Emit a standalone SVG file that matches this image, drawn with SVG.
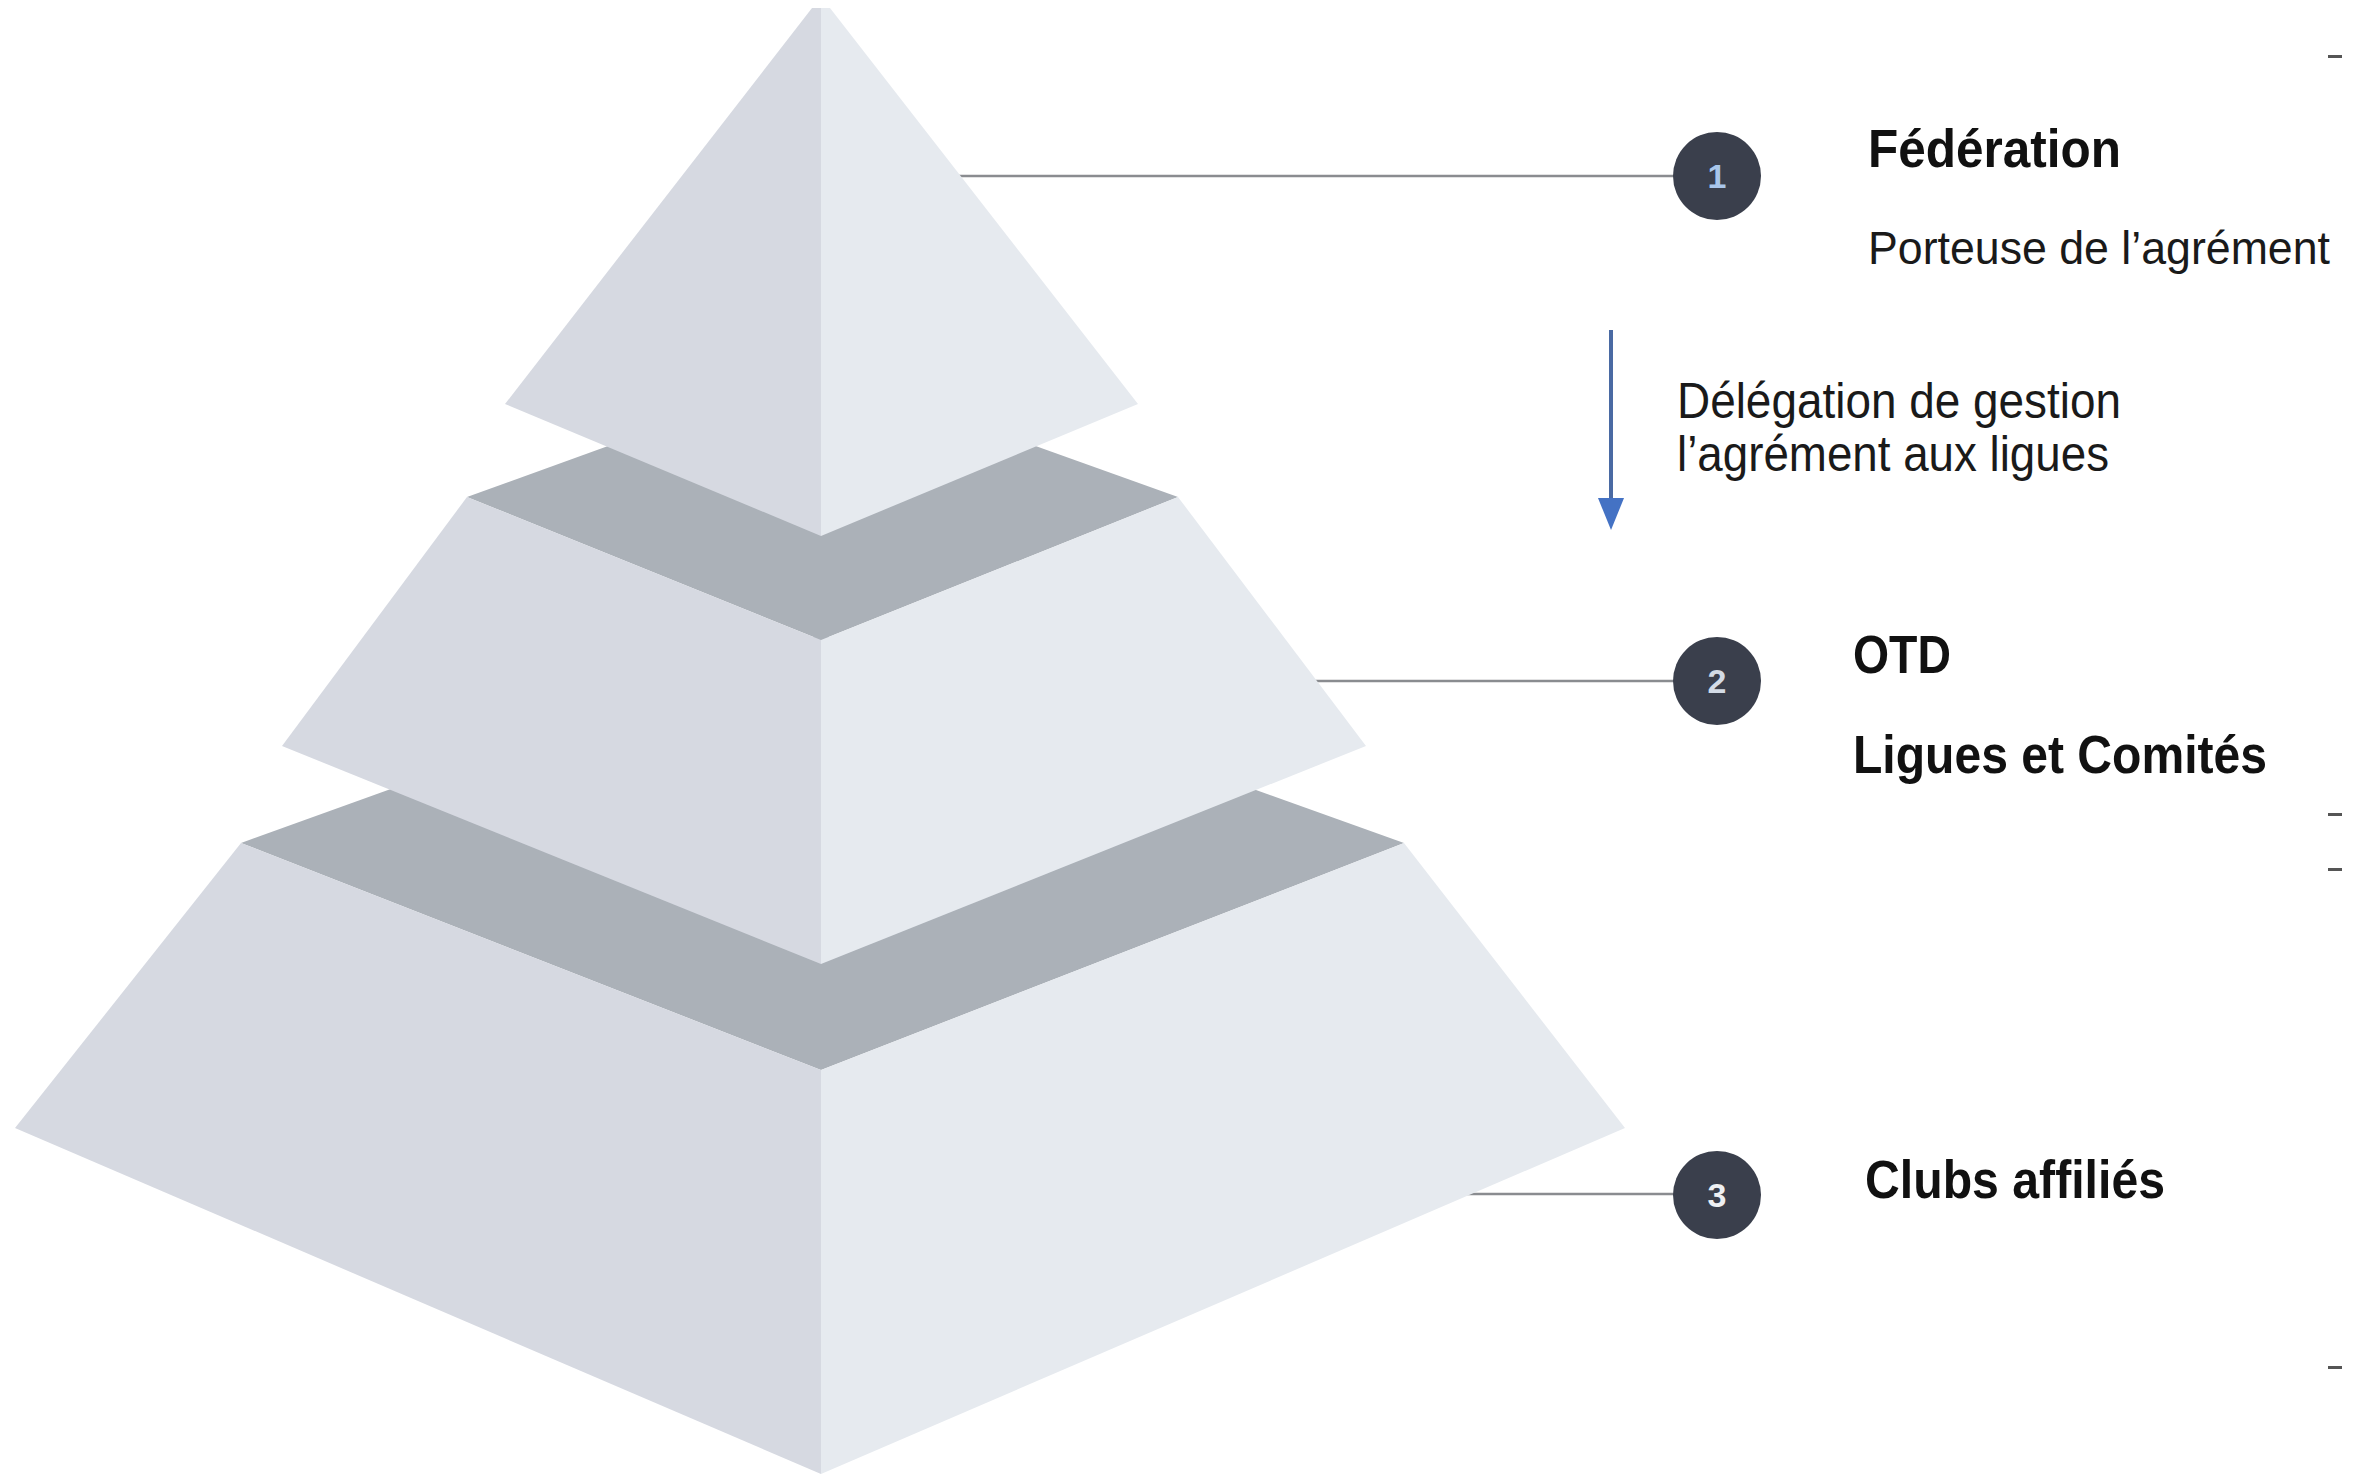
<svg xmlns="http://www.w3.org/2000/svg" width="2362" height="1476" viewBox="0 0 2362 1476">
  <style>
    .lf { fill: #d6d9e1; }
    .rf { fill: #e6eaef; }
    .dk { fill: #abb1b8; }
    .lead { stroke: #8a8c90; stroke-width: 2.5; fill: none; }
    .badge { fill: #3a3f4c; }
    .num { font-family: "Liberation Sans", Arial, sans-serif; font-weight: bold; font-size: 34px; text-anchor: middle; }
    .title { font-family: "Liberation Sans", Arial, sans-serif; font-weight: bold; font-size: 54px; fill: #111111; }
    .body { font-family: "Liberation Sans", Arial, sans-serif; font-size: 50px; fill: #1a1a1a; }
    .body.small { font-size: 46px; }
    .tick { fill: #555555; }
  </style>
  <rect x="0" y="0" width="2362" height="1476" fill="#ffffff"/>

  <g id="connectors">
    <line class="lead" x1="940" y1="176" x2="1680" y2="176"/>
    <line class="lead" x1="1300" y1="681" x2="1680" y2="681"/>
    <line class="lead" x1="1450" y1="1194" x2="1680" y2="1194"/>
    <line x1="1611" y1="330" x2="1611" y2="500" stroke="#4a6aa3" stroke-width="4"/>
    <path d="M1598,498 L1624,498 L1611,530 Z" fill="#4472c4"/>
  </g>

  <g id="tier-3">
    <polygon class="dk" points="241,843 821,634 1404,843 821,1070"/>
    <polygon class="lf" points="241,843 821,1070 821,1474 15,1128"/>
    <polygon class="rf" points="821,1070 1404,843 1625,1128 821,1474"/>
  </g>
  <g id="tier-2">
    <polygon class="dk" points="467,497 821,369 1178,497 821,640"/>
    <polygon class="lf" points="467,497 821,640 821,964 282,746"/>
    <polygon class="rf" points="821,640 1178,497 1366,746 821,964"/>
  </g>
  <g id="tier-1">
    <polygon class="lf" points="812,8 821,8 821,536 505,404"/>
    <polygon class="rf" points="821,8 830,8 1138,404 821,536"/>
  </g>

  <g id="node-1">
    <circle class="badge" cx="1717" cy="176" r="44"/>
    <text class="num" x="1717" y="188" fill="#a9c6ea">1</text>
    <text class="title" x="1868" y="167" textLength="253" lengthAdjust="spacingAndGlyphs">Fédération</text>
    <text class="body small" x="1868" y="264" textLength="462" lengthAdjust="spacingAndGlyphs">Porteuse de l’agrément</text>
  </g>
  <g id="delegation">
    <text class="body" x="1677" y="418" textLength="444" lengthAdjust="spacingAndGlyphs">Délégation de gestion</text>
    <text class="body" x="1677" y="471" textLength="432" lengthAdjust="spacingAndGlyphs">l’agrément aux ligues</text>
  </g>
  <g id="node-2">
    <circle class="badge" cx="1717" cy="681" r="44"/>
    <text class="num" x="1717" y="693" fill="#d3dbe6">2</text>
    <text class="title" x="1853" y="673" textLength="98" lengthAdjust="spacingAndGlyphs">OTD</text>
    <text class="title" x="1853" y="773" textLength="414" lengthAdjust="spacingAndGlyphs">Ligues et Comités</text>
  </g>
  <g id="node-3">
    <circle class="badge" cx="1717" cy="1195" r="44"/>
    <text class="num" x="1717" y="1207" fill="#eef0f3">3</text>
    <text class="title" x="1865" y="1198" textLength="300" lengthAdjust="spacingAndGlyphs">Clubs affiliés</text>
  </g>

  <g id="edge-marks">
    <rect class="tick" x="2328" y="55" width="14" height="3"/>
    <rect class="tick" x="2328" y="813" width="14" height="3"/>
    <rect class="tick" x="2328" y="868" width="14" height="3"/>
    <rect class="tick" x="2328" y="1366" width="14" height="3"/>
  </g>
</svg>
